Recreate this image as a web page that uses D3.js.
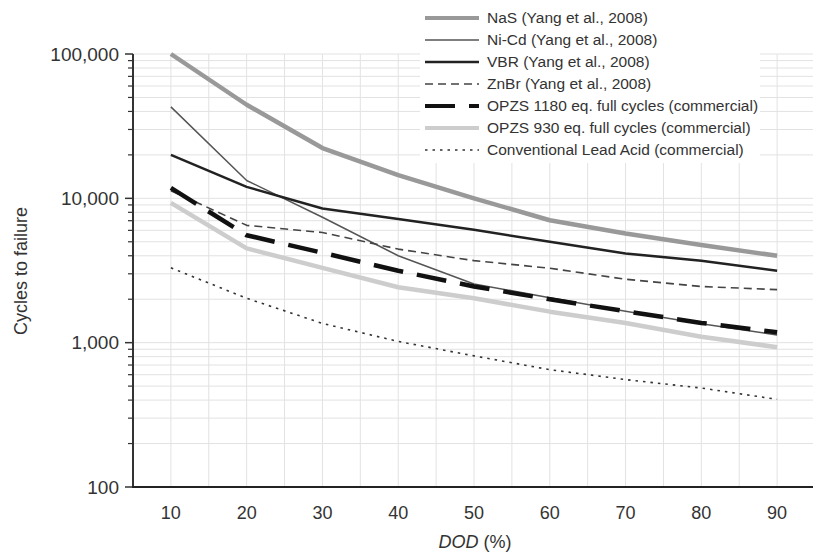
<!DOCTYPE html>
<html>
<head>
<meta charset="utf-8">
<script src="https://cdn.jsdelivr.net/npm/d3@7"></script>
<style>
  body { margin: 0; background: #fff; }
  svg { font-family: "Liberation Sans", Arial, sans-serif; }
</style>
</head>
<body>
<svg width="813" height="556"></svg>
<script>
// depth of discharge (%)
var dod = [10, 20, 30, 40, 50, 60, 70, 80, 90];

// cycles to failure
var nas = [100000, 44500, 22300, 14500, 10000, 7050, 5700, 4750, 4000];
var nicd = [43000, 13300, 7400, 4000, 2550, 2050, 1650, 1350, 1130];
var vbr = [20000, 12000, 8500, 7200, 6050, 5000, 4150, 3700, 3150];
var znbr = [11300, 6500, 5800, 4450, 3700, 3280, 2750, 2450, 2330];
var opzs1180 = [11800, 5550, 4200, 3150, 2450, 2000, 1650, 1370, 1180];
var opzs930 = [9300, 4500, 3300, 2420, 2030, 1640, 1370, 1100, 930];
var leadAcid = [3300, 2030, 1360, 1020, 810, 650, 555, 485, 405];

var seriesNames = [
  'NaS (Yang et al., 2008)',
  'Ni-Cd (Yang et al., 2008)',
  'VBR (Yang et al., 2008)',
  'ZnBr (Yang et al., 2008)',
  'OPZS 1180 eq. full cycles (commercial)',
  'OPZS 930 eq. full cycles (commercial)',
  'Conventional Lead Acid (commercial)'
];
var yTickValues = [100, 1000, 10000, 100000];
var xTickValues = [10, 20, 30, 40, 50, 60, 70, 80, 90];

var styles = [
  { color: '#999', w: 4.5, dash: null },
  { color: '#555', w: 1.5, dash: null },
  { color: '#222', w: 2.5, dash: null },
  { color: '#444', w: 1.6, dash: '8,5' },
  { color: '#111', w: 4.5, dash: '30,14' },
  { color: '#cdcdcd', w: 4.5, dash: null },
  { color: '#333', w: 1.6, dash: '2.5,5' }
];

var series = [nas, nicd, vbr, znbr, opzs1180, opzs930, leadAcid].map(function(vals, i) {
  return { name: seriesNames[i], style: styles[i],
    points: vals.map(function(v, j) { return { x: dod[j], y: v }; }) };
});

var svg = d3.select('svg');
var pl = 133, pr = 815, pt = 54, pb = 487;

var x = d3.scaleLinear().domain([5, 95]).range([pl, pr]);
var y = d3.scaleLog().domain([100, 100000]).range([pb, pt]);

// grid
var grid = svg.append('g');
var minor = [];
[100, 1000, 10000].forEach(function(d) {
  for (var k = 1; k <= 10; k++) minor.push(d * k);
});
minor = Array.from(new Set(minor));
grid.selectAll('.hg').data(minor).enter().append('line')
  .attr('x1', pl).attr('x2', 813)
  .attr('y1', function(d) { return y(d); }).attr('y2', function(d) { return y(d); })
  .attr('stroke', '#e2e2e2').attr('stroke-width', 1);
grid.selectAll('.vg').data(d3.range(10, 95, 5)).enter().append('line')
  .attr('x1', function(d) { return x(d); }).attr('x2', function(d) { return x(d); })
  .attr('y1', pt).attr('y2', pb)
  .attr('stroke', '#e2e2e2').attr('stroke-width', 1);

// legend background hides the grid behind it
svg.append('rect').attr('x', 420).attr('y', 0).attr('width', 340).attr('height', 163)
  .attr('fill', '#fff');

// lines
var line = d3.line().x(function(d) { return x(d.x); }).y(function(d) { return y(d.y); });
svg.append('g').selectAll('path').data(series).enter().append('path')
  .attr('d', function(d) { return line(d.points); })
  .attr('fill', 'none')
  .attr('stroke', function(d) { return d.style.color; })
  .attr('stroke-width', function(d) { return d.style.w; })
  .attr('stroke-dasharray', function(d) { return d.style.dash; })
  .attr('stroke-linejoin', 'round');

// y axis
var yAxis = svg.append('g').attr('transform', 'translate(' + pl + ',0)');
yAxis.append('line').attr('x1', 0).attr('x2', 0).attr('y1', pt).attr('y2', pb)
  .attr('stroke', '#333').attr('stroke-width', 2);
yAxis.selectAll('.mt').data(minor.filter(function(d) { return yTickValues.indexOf(d) < 0; }))
  .enter().append('line')
  .attr('x1', -5).attr('x2', 0)
  .attr('y1', function(d) { return y(d); }).attr('y2', function(d) { return y(d); })
  .attr('stroke', '#333').attr('stroke-width', 1.2);
yAxis.selectAll('.Mt').data(yTickValues).enter().append('line')
  .attr('x1', -8).attr('x2', 0)
  .attr('y1', function(d) { return y(d); }).attr('y2', function(d) { return y(d); })
  .attr('stroke', '#333').attr('stroke-width', 1.5);
yAxis.selectAll('text').data(yTickValues).enter().append('text')
  .attr('x', -14).attr('y', function(d) { return y(d); }).attr('dy', '0.35em')
  .attr('text-anchor', 'end').attr('font-size', 19).attr('fill', '#333')
  .text(d3.format(','));

// x axis
svg.append('line').attr('x1', pl - 1).attr('x2', 813).attr('y1', pb).attr('y2', pb)
  .attr('stroke', '#222').attr('stroke-width', 2);
svg.append('g').selectAll('text').data(xTickValues).enter().append('text')
  .attr('x', function(d) { return x(d); }).attr('y', 519)
  .attr('text-anchor', 'middle').attr('font-size', 18).attr('fill', '#333')
  .text(function(d) { return d; });

var xt = svg.append('text').attr('x', 475).attr('y', 548).attr('text-anchor', 'middle')
  .attr('font-size', 18).attr('fill', '#333');
xt.append('tspan').attr('font-style', 'italic').text('DOD');
xt.append('tspan').text(' (%)');

svg.append('text').attr('transform', 'translate(27,271) rotate(-90)')
  .attr('text-anchor', 'middle').attr('font-size', 18).attr('fill', '#333')
  .text('Cycles to failure');

// legend
var lg = svg.append('g').selectAll('g').data(series).enter().append('g')
  .attr('transform', function(d, i) { return 'translate(425,' + (18 + i * 22) + ')'; });
lg.append('line').attr('x1', 0).attr('x2', 54).attr('y1', 0).attr('y2', 0)
  .attr('stroke', function(d) { return d.style.color; })
  .attr('stroke-width', function(d) { return Math.min(d.style.w, 4); })
  .attr('stroke-dasharray', function(d) { return d.style.dash; });
lg.append('text').attr('x', 62).attr('dy', '0.35em').attr('font-size', 15.5).attr('fill', '#333')
  .text(function(d) { return d.name; });
</script>
</body>
</html>
